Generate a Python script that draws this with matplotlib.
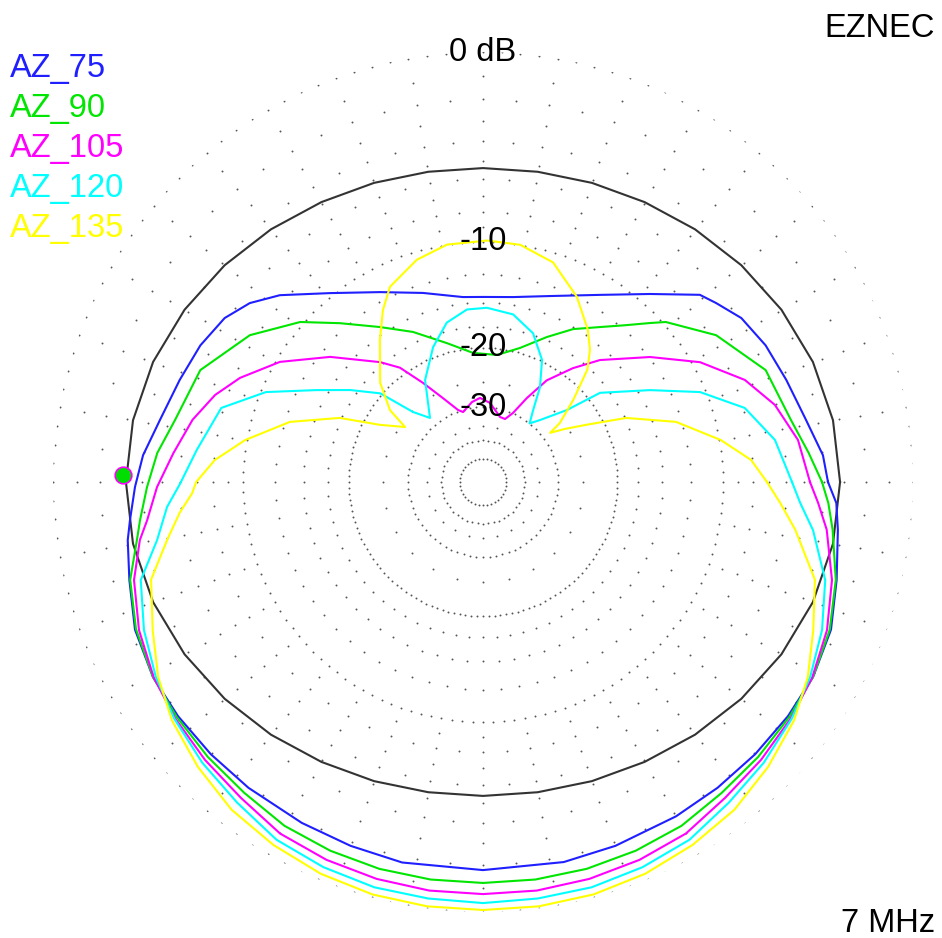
import numpy as np
import matplotlib
matplotlib.use("Agg")
import matplotlib.pyplot as plt

plt.rcParams['font.family'] = ['Liberation Sans', 'DejaVu Sans']

# ARRL log-periodic radial scale: 0.89 per 2 dB
def db_to_r(db):
    db = np.asarray(db, dtype=float)
    return 0.89 ** (-db / 2.0)

def r_to_db(r):
    r = np.clip(np.asarray(r, dtype=float), 1e-12, None)
    return -2.0 * np.log(r) / np.log(0.89)

# pattern data: angle (deg, CCW from right) and gain (dB)
az75_deg = [0, 4.5, 10.9, 18.6, 25.8, 32.4, 37.5, 40.8, 48.4, 58, 70.2, 80.8, 90, 96.2, 107.6,
            118.5, 129, 137.4, 142.5, 147.6, 154.2, 161.4, 169.1, 175.5, 180.8, 186.1, 189.3,
            195.5, 203, 210.6, 217.5, 225, 232.5, 242, 250, 258, 270, 282, 290, 300, 307.5,
            315, 322.5, 329.4, 337, 344.5, 352.3, 356.6, 360]
az75_db = [-3.78, -3.98, -4.6, -5.07, -5.40, -5.84, -6.53, -6.97, -9.21, -11.45, -13.34,
           -14.26, -14.47, -14.38, -13.28, -11.81, -9.79, -7.61, -6.53, -5.84, -5.40, -5.07,
           -4.6, -3.98, -3.63, -3.29, -3.05, -2.72, -2.21, -1.97, -1.92, -1.9, -1.88, -1.85,
           -1.8, -1.72, -1.76, -1.74, -1.8, -1.85, -1.88, -1.9, -1.92, -1.97, -2.21, -2.72,
           -3.14, -3.34, -3.78]

az90_deg = [0, 5.1, 11.4, 21.6, 32.2, 41.2, 43.6, 47.9, 53, 59.5, 66.2, 74.6, 83.7, 94.4, 104.5,
            115, 123.6, 132, 138.8, 147.8, 158.4, 168.6, 174.9, 180.9, 186.3, 189.5, 195.5, 203,
            210.6, 217.5, 225, 232.5, 240, 247.5, 255, 262.5, 270, 277.5, 285, 292.5, 300, 307.5,
            315, 322.5, 329.4, 336.9, 344.5, 352.2, 356.5, 360]
az90_db = [-4.08, -4.70, -5.39, -5.95, -7.64, -9.8, -10.7, -12.2, -13.66, -15.19, -17.13,
           -19.38, -20.82, -20.6, -18.85, -16.38, -14.38, -12.0, -9.8, -7.64, -5.95, -5.39,
           -4.70, -4.23, -3.78, -3.49, -2.76, -2.26, -1.97, -1.85, -1.72, -1.59, -1.37, -1.28,
           -1.22, -1.2, -1.2, -1.2, -1.22, -1.28, -1.37, -1.59, -1.72, -1.85, -1.97, -2.26,
           -2.76, -3.39, -3.73, -4.08]

az105_deg = [0, 7.6, 14.8, 21.3, 28.9, 36.8, 46.2, 51.7, 57.9, 62.4, 66.5, 70.7, 75.3, 84.9, 92,
             97.8, 105.9, 109.1, 115.5, 121.2, 126, 130.6, 140.7, 149.4, 156.8, 162, 167.9,
             174.7, 180.9, 186.5, 189.6, 195.7, 203.3, 210.7, 217.5, 225, 232.5, 240, 247.5,
             255, 262.5, 270, 277.5, 285, 292.5, 300, 307.5, 315, 322.5, 329.3, 336.7, 344.3,
             352.1, 356.4, 360]
az105_db = [-4.7, -5.19, -6.07, -7.3, -9.45, -12.41, -16.03, -18.65, -21.9, -25.95, -29.9,
            -31.97, -31.85, -29.0, -28.0, -28.7, -30.5, -29.7, -26.3, -22.5, -19.1, -17.2,
            -13.35, -10.3, -8.35, -7.26, -6.35, -5.56, -4.75, -4.13, -3.63, -2.93, -2.37,
            -1.99, -1.76, -1.54, -1.33, -0.99, -0.86, -0.78, -0.73, -0.73, -0.73, -0.78, -0.86,
            -0.99, -1.33, -1.54, -1.76, -1.99, -2.37, -2.93, -3.68, -4.24, -4.7]

az120_deg = [0, 8.2, 15.8, 22.5, 28.8, 37.3, 40.6, 47.4, 51.5, 55.2, 59, 64.2, 71.4, 79.8,
             88.7, 95.3, 102.8, 110.3, 119.6, 129.6, 135, 139.2, 145.3, 151.2, 157.5, 164.2,
             173.6, 180.4, 184.5, 190.1, 196, 203.6, 210.8, 217.5, 225, 232.5, 240, 247.5, 255,
             262.5, 270, 277.5, 285, 292.5, 300, 307.5, 315, 322.5, 329.2, 336.4, 344, 351.7,
             356.2, 360]
az120_db = [-5.67, -6.47, -7.86, -10.37, -13.95, -18.4, -23.3, -28.0, -30.0, -27.2, -23.3,
            -19.8, -17.3, -15.9, -15.5, -15.6, -16.6, -18.8, -22.3, -28.2, -25.2, -19.8, -16.8,
            -13.95, -10.37, -7.86, -6.88, -6.0, -5.24, -4.49, -3.24, -2.58, -2.08, -1.72,
            -1.37, -1.07, -0.69, -0.53, -0.42, -0.40, -0.36, -0.40, -0.42, -0.53, -0.69, -1.07,
            -1.37, -1.72, -2.08, -2.58, -3.24, -4.36, -5.18, -5.67]

az135_deg = [0, 4.7, 10, 17.3, 24.1, 29, 33, 36.2, 37.5, 42.3, 47.1, 51, 55.4, 63.1, 72.3,
             81.1, 89, 98.6, 106.6, 115.5, 120.2, 126, 136, 142.3, 144.8, 151, 155.9, 162.7,
             170, 175.3, 180, 182.2, 185.8, 190.4, 196.4, 204.2, 211, 217.5, 225, 232.5, 240,
             247.5, 255, 262.5, 270, 277.5, 285, 292.5, 300, 307.5, 315, 322.5, 329, 335.8,
             343.6, 351.3, 356, 360]
az135_db = [-7.12, -8.05, -9.9, -12.95, -17.3, -22.2, -25.5, -28.2, -25.6, -21.6, -17.7,
            -15.93, -14.5, -12.5, -10.7, -10.0, -9.9, -10.0, -10.6, -11.8, -13.23, -15.39,
            -18.9, -22.26, -25.85, -22.2, -17.3, -12.95, -9.9, -8.05, -6.95, -6.7, -5.9,
            -5.01, -3.73, -2.95, -2.17, -1.59, -1.11, -0.69, -0.44, -0.24, -0.12, -0.08, -0.08,
            -0.08, -0.12, -0.24, -0.44, -0.69, -1.11, -1.59, -2.17, -2.95, -3.73, -5.29, -6.3,
            -7.12]

ref_deg = list(range(0, 361, 10))
ref_db = [-3.19, -3.27, -3.48, -3.80, -4.17, -4.55, -4.90, -5.16, -5.34, -5.40, -5.34, -5.16,
          -4.90, -4.55, -4.17, -3.80, -3.48, -3.27, -3.19, -3.27, -3.48, -3.80, -4.17, -4.55,
          -4.90, -5.16, -5.34, -5.40, -5.34, -5.16, -4.90, -4.55, -4.17, -3.80, -3.48, -3.27,
          -3.19]

cursor_deg, cursor_db = 178.9, -3.05

series = [
    ("AZ_75", az75_deg, az75_db, "#1f1fff"),
    ("AZ_90", az90_deg, az90_db, "#00e600"),
    ("AZ_105", az105_deg, az105_db, "#ff00ff"),
    ("AZ_120", az120_deg, az120_db, "#00ffff"),
    ("AZ_135", az135_deg, az135_db, "#ffff00"),
]

ring_levels = [0, -10, -20, -30, -40, -50]
ring_steps = [2.5, 2.5, 2.5, 5, 7.5, 10]
ring_labels = {0: "0 dB", -10: "-10", -20: "-20", -30: "-30"}
# spoke dots: (level dB, angular step deg)
spoke_dots = [(-1, 10), (-2, 5), (-3, 10), (-4, 5), (-5, 10), (-6, 5), (-7, 10), (-8, 5),
              (-9, 10), (-12.5, 5), (-15, 5), (-17.5, 5), (-25, 15), (-35, 15)]

fig = plt.figure(figsize=(9.42, 9.38), dpi=100)
ax = fig.add_axes([0.05626, 0.02772, 0.91295, 0.91684], projection='polar')
ax.set_rscale('function', functions=(db_to_r, r_to_db))
ax.set_rlim(-200, 0)
ax.set_theta_zero_location('E')
ax.grid(False)
ax.set_xticks([])
ax.set_yticks([])
ax.spines['polar'].set_visible(False)
ax.patch.set_visible(False)

# dotted grid
dot = dict(ls='none', marker='o', ms=1.4, color='#555555', mew=0)
for lvl, step in zip(ring_levels, ring_steps):
    th = np.radians(np.arange(0, 360, step))
    ax.plot(th, np.full_like(th, lvl), **dot)
for lvl, step in spoke_dots:
    th = np.radians(np.arange(0, 360, step))
    ax.plot(th, np.full_like(th, lvl), **dot)

ax.plot(np.radians(ref_deg), ref_db, color='#333333', lw=1.5, clip_on=False)
for name, deg, db, col in series:
    ax.plot(np.radians(deg), db, color=col, lw=1.5, clip_on=False)

ax.plot(np.radians(cursor_deg), cursor_db, marker='o', ms=12, mfc='#00dd00', mec='#ff00ff',
        mew=1.2, clip_on=False, zorder=5)

for lvl, txt in ring_labels.items():
    ax.text(np.pi / 2, lvl, txt, ha='center', va='center', fontsize=23.5, color='black',
            zorder=6)

for i, (name, deg, db, col) in enumerate(series):
    fig.text(10 / 942, 1 - (77 + 40 * i) / 938, name, ha='left', va='baseline',
             fontsize=23.5, color=col)

fig.text(935 / 942, 1 - 37 / 938, "EZNEC", ha='right', va='baseline', fontsize=23.5)
fig.text(935 / 942, 1 - 932 / 938, "7 MHz", ha='right', va='baseline', fontsize=23.5)

fig.savefig("out.png", dpi=100, facecolor='white')
